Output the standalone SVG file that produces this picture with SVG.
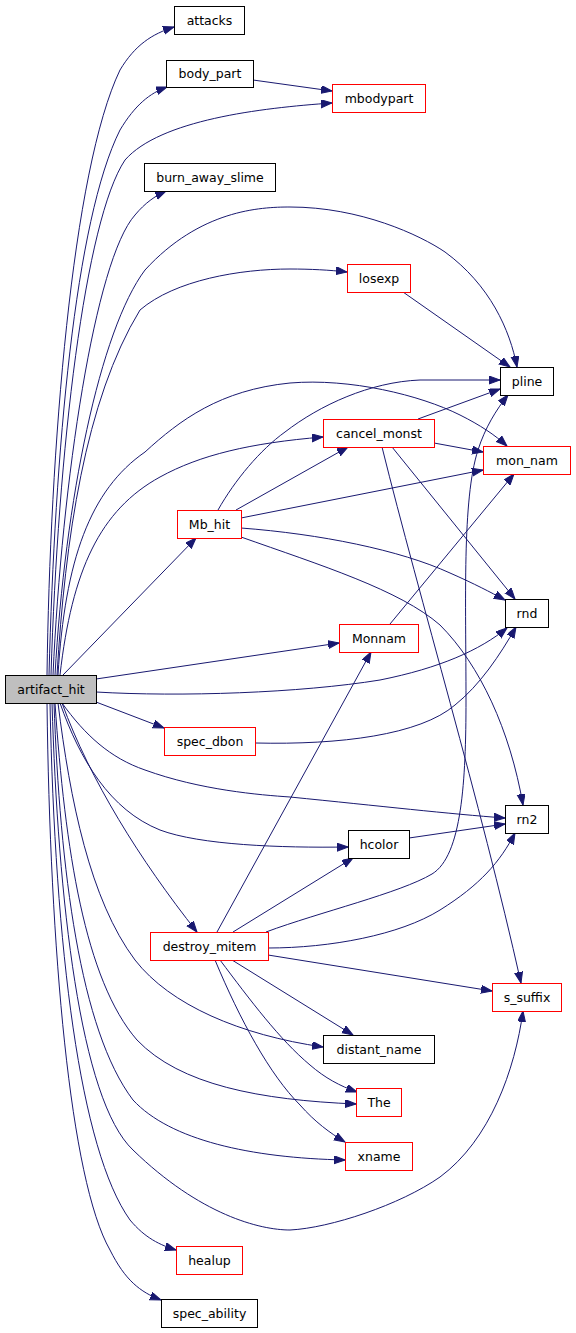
<svg xmlns="http://www.w3.org/2000/svg" width="576" height="1333" viewBox="0 0 576 1333">
<style>
.n rect{fill:#fff;stroke:#000;stroke-width:1}
.r rect{stroke:#f00}
.g rect{fill:#bfbfbf}
text{font-family:"DejaVu Sans",sans-serif;font-size:12.5px;text-anchor:middle;fill:#000}
#edges path{fill:none;stroke:#191970;stroke-width:1;marker-end:url(#ah)}
</style>
<defs>
<marker id="ah" markerWidth="12" markerHeight="9" refX="11" refY="4" orient="auto" markerUnits="userSpaceOnUse">
<path d="M0,0 L11,4 L0,8 z" fill="#191970" stroke="#191970" stroke-width="1"/>
</marker>
</defs>
<rect width="576" height="1333" fill="#fff"/>
<g id="edges">
<path d="M47,675 C50,450 72,170 120,70 C135,45 152,34 174,27"/>
<path d="M49,675 C55,450 75,220 120,130 C135,105 150,93 167,87"/>
<path d="M51,675 C58,450 85,220 125,160 C160,120 260,108 332,103"/>
<path d="M53,675 C62,480 95,260 135,215 C145,203 155,196 166,191"/>
<path d="M55,675 C65,500 100,330 145,270 C200,210 260,207 290,207 C360,207 420,235 445,252 C490,285 510,330 517,367"/>
<path d="M57,675 C65,540 85,400 140,310 C175,280 240,269 290,269 C310,269 330,270 347,272"/>
<path d="M58,675 C65,560 90,490 145,452 C180,420 220,390 290,383 C350,378 420,395 460,415 C480,425 495,435 507,446"/>
<path d="M60,675 C72,570 100,510 160,477 C200,455 250,443 323,437"/>
<path d="M63,675 L196,538"/>
<path d="M96,679 L339,643"/>
<path d="M96,692 C180,697 300,693 380,680 C440,668 480,650 507,628"/>
<path d="M96,702 L164,728"/>
<path d="M62,703 C85,735 110,758 145,770 C200,790 260,795 290,797 C380,806 450,814 505,818"/>
<path d="M60,703 C80,760 110,810 160,830 C200,845 280,848 348,847"/>
<path d="M62,703 C90,780 140,860 197,932"/>
<path d="M58,703 C70,800 90,900 135,960 C170,1005 240,1035 323,1047"/>
<path d="M55,703 C65,850 85,980 137,1040 C180,1085 260,1100 356,1104"/>
<path d="M54,703 C60,870 80,1030 133,1100 C170,1140 250,1158 345,1160"/>
<path d="M52,703 C58,900 80,1100 133,1150 C200,1215 260,1230 290,1230 C330,1228 400,1205 440,1177 C490,1140 515,1070 523,1011"/>
<path d="M50,703 C55,950 80,1150 130,1220 C145,1238 160,1245 176,1250"/>
<path d="M47,703 C50,950 70,1180 110,1250 C125,1280 140,1292 161,1300"/>
<path d="M253,80 L332,91"/>
<path d="M403,292 L510,367"/>
<path d="M418,419 L500,389"/>
<path d="M434,443 L483,452"/>
<path d="M392,447 L515,599"/>
<path d="M382,447 C420,600 480,800 521,983"/>
<path d="M218,510 C235,480 260,450 285,432 C320,405 370,382 420,380 L500,380"/>
<path d="M236,510 L348,447"/>
<path d="M241,518 L483,470"/>
<path d="M241,528 C320,534 400,550 450,573 C475,584 490,592 505,600"/>
<path d="M241,537 C320,565 400,590 440,625 C480,665 510,730 523,805"/>
<path d="M390,624 L514,474"/>
<path d="M255,743 C340,745 420,735 455,705 C480,685 500,655 516,627"/>
<path d="M409,838 L505,824"/>
<path d="M217,932 L371,652"/>
<path d="M233,932 L353,858"/>
<path d="M266,932 C320,912 400,893 432,874 C462,856 466,780 466,700 C466,600 462,500 478,450 C485,428 496,410 508,395"/>
<path d="M268,948 C330,948 400,935 440,910 C480,885 500,862 515,833"/>
<path d="M268,955 L492,991"/>
<path d="M232,960 L353,1035"/>
<path d="M220,960 C250,1000 280,1040 310,1065 C325,1078 340,1086 357,1092"/>
<path d="M215,960 C240,1020 270,1075 300,1105 C315,1122 330,1133 345,1142"/>
</g>
<g id="attacks" class="n"><rect x="174.5" y="6.5" width="70" height="28"/><text x="209.5" y="24.5">attacks</text></g>
<g id="body_part" class="n"><rect x="166.5" y="60.5" width="87" height="27"/><text x="210" y="78">body_part</text></g>
<g id="burn_away_slime" class="n"><rect x="144.5" y="163.5" width="131" height="28"/><text x="210" y="181.5">burn_away_slime</text></g>
<g id="mbodypart" class="n r"><rect x="332.5" y="84.5" width="93" height="28"/><text x="379" y="102.5">mbodypart</text></g>
<g id="losexp" class="n r"><rect x="347.5" y="264.5" width="63" height="28"/><text x="379" y="282.5">losexp</text></g>
<g id="pline" class="n"><rect x="500.5" y="367.5" width="53" height="28"/><text x="527" y="385.5">pline</text></g>
<g id="cancel_monst" class="n r"><rect x="323.5" y="419.5" width="111" height="28"/><text x="379" y="437.5">cancel_monst</text></g>
<g id="mon_nam" class="n r"><rect x="483.5" y="446.5" width="87" height="28"/><text x="527" y="464.5">mon_nam</text></g>
<g id="Mb_hit" class="n r"><rect x="177.5" y="510.5" width="64" height="28"/><text x="209.5" y="528.5">Mb_hit</text></g>
<g id="rnd" class="n"><rect x="505.5" y="599.5" width="43" height="28"/><text x="527" y="617.5">rnd</text></g>
<g id="Monnam" class="n r"><rect x="339.5" y="624.5" width="79" height="28"/><text x="379" y="642.5">Monnam</text></g>
<g id="artifact_hit" class="n g"><rect x="5.5" y="675.5" width="91" height="28"/><text x="51" y="693.5">artifact_hit</text></g>
<g id="spec_dbon" class="n r"><rect x="164.5" y="727.5" width="91" height="28"/><text x="210" y="745.5">spec_dbon</text></g>
<g id="rn2" class="n"><rect x="505.5" y="805.5" width="43" height="28"/><text x="527" y="823.5">rn2</text></g>
<g id="hcolor" class="n"><rect x="348.5" y="830.5" width="61" height="28"/><text x="379" y="848.5">hcolor</text></g>
<g id="destroy_mitem" class="n r"><rect x="150.5" y="932.5" width="118" height="28"/><text x="209.5" y="950.5">destroy_mitem</text></g>
<g id="s_suffix" class="n r"><rect x="492.5" y="983.5" width="69" height="28"/><text x="527" y="1001.5">s_suffix</text></g>
<g id="distant_name" class="n"><rect x="323.5" y="1035.5" width="111" height="28"/><text x="379" y="1053.5">distant_name</text></g>
<g id="The" class="n r"><rect x="356.5" y="1088.5" width="45" height="28"/><text x="379" y="1106.5">The</text></g>
<g id="xname" class="n r"><rect x="345.5" y="1142.5" width="67" height="28"/><text x="379" y="1160.5">xname</text></g>
<g id="healup" class="n r"><rect x="176.5" y="1246.5" width="66" height="28"/><text x="209.5" y="1264.5">healup</text></g>
<g id="spec_ability" class="n"><rect x="161.5" y="1299.5" width="96" height="28"/><text x="209.5" y="1317.5">spec_ability</text></g>
</svg>
